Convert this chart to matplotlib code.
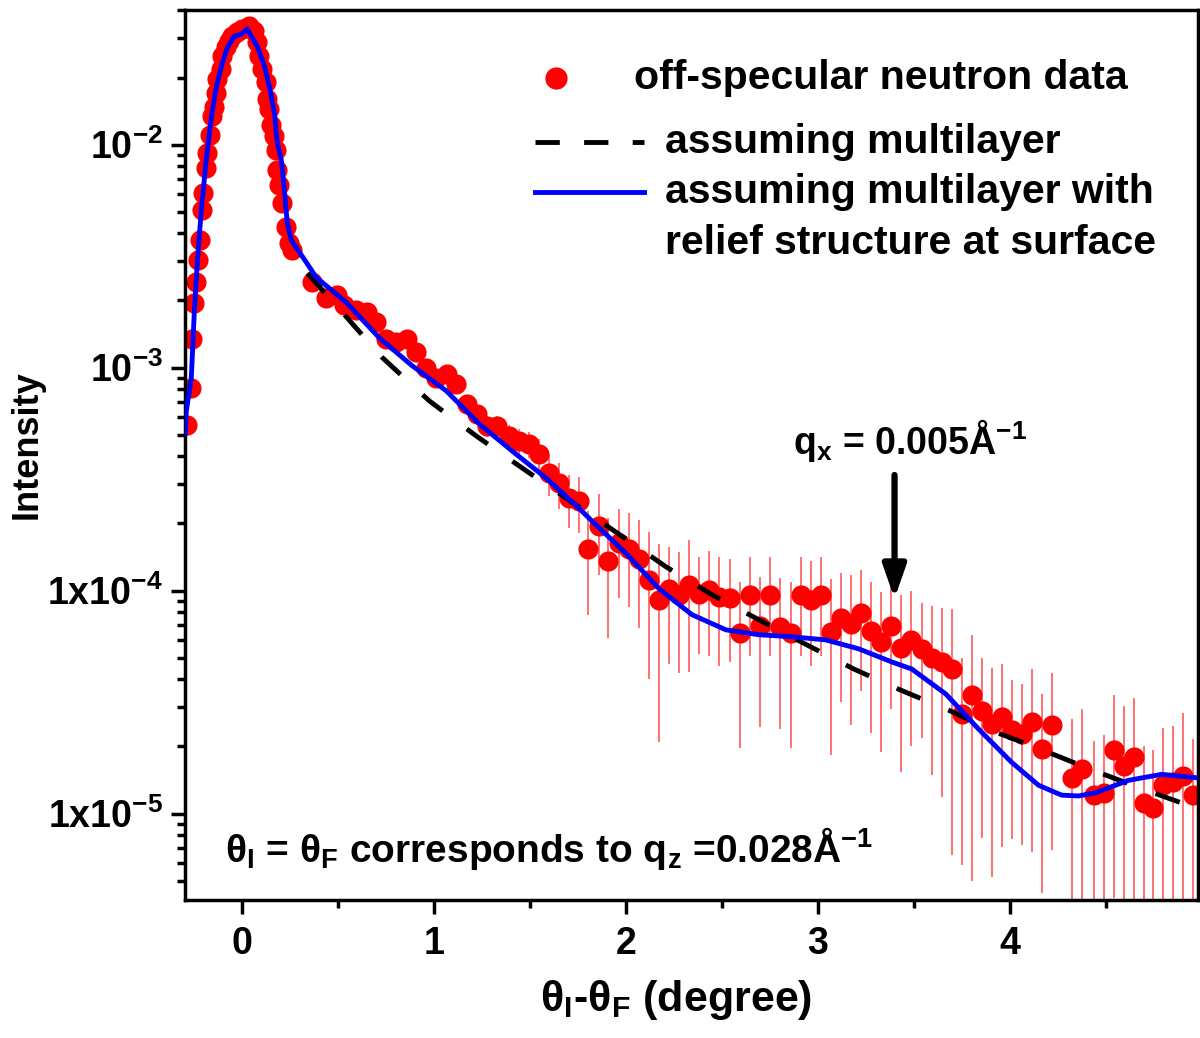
import matplotlib.pyplot as plt
import numpy as np
from matplotlib.ticker import LogLocator, MultipleLocator, NullFormatter

plt.rcParams['font.family'] = ['Liberation Sans', 'DejaVu Sans']
plt.rcParams['font.weight'] = 'bold'
plt.rcParams['mathtext.fontset'] = 'custom'
plt.rcParams['mathtext.rm'] = 'Liberation Sans:bold'
plt.rcParams['mathtext.it'] = 'Liberation Sans:bold'
plt.rcParams['mathtext.bf'] = 'Liberation Sans:bold'
plt.rcParams['mathtext.default'] = 'rm'

# off-specular neutron data (theta_I - theta_F in degree, intensity)
x_data = [-0.286, -0.266, -0.260, -0.250, -0.240, -0.229, -0.219, -0.208, -0.203, -0.188,
          -0.182, -0.167, -0.156, -0.146, -0.135, -0.130, -0.109, -0.104, -0.083, -0.068,
          -0.052, -0.026, 0.000, 0.036, 0.063, 0.078, 0.089, 0.104, 0.125, 0.130,
          0.141, 0.151, 0.167, 0.177, 0.182, 0.193, 0.208, 0.229, 0.245, 0.260,
          0.365, 0.438, 0.495, 0.531, 0.594, 0.651, 0.698, 0.750, 0.802, 0.859,
          0.906, 0.958, 1.010, 1.068, 1.115, 1.172, 1.224, 1.276, 1.328, 1.391,
          1.443, 1.495, 1.547, 1.599, 1.651, 1.703, 1.755, 1.802, 1.859, 1.906,
          1.964, 2.016, 2.068, 2.120, 2.172, 2.224, 2.276, 2.328, 2.380, 2.432,
          2.484, 2.542, 2.594, 2.646, 2.698, 2.750, 2.802, 2.859, 2.911, 2.964,
          3.016, 3.068, 3.120, 3.172, 3.224, 3.276, 3.328, 3.380, 3.432, 3.484,
          3.542, 3.594, 3.646, 3.698, 3.750, 3.802, 3.854, 3.906, 3.958, 4.010,
          4.063, 4.115, 4.167, 4.219, 4.323, 4.375, 4.438, 4.490, 4.542, 4.594,
          4.646, 4.698, 4.750, 4.802, 4.854, 4.906, 4.958]
y_data = [5.53e-4, 8.13e-4, 1.35e-3, 1.94e-3, 2.42e-3, 3.03e-3, 3.73e-3, 5.09e-3, 6.08e-3, 7.88e-3,
          9.20e-3, 1.11e-2, 1.34e-2, 1.47e-2, 1.71e-2, 1.96e-2, 2.18e-2, 2.49e-2, 2.73e-2, 2.91e-2,
          3.06e-2, 3.20e-2, 3.30e-2, 3.40e-2, 3.23e-2, 2.88e-2, 2.49e-2, 2.18e-2, 1.90e-2, 1.60e-2,
          1.44e-2, 1.23e-2, 1.09e-2, 9.49e-3, 7.71e-3, 6.60e-3, 5.48e-3, 4.28e-3, 3.62e-3, 3.37e-3,
          2.42e-3, 2.05e-3, 2.11e-3, 1.90e-3, 1.81e-3, 1.77e-3, 1.60e-3, 1.35e-3, 1.30e-3, 1.35e-3,
          1.17e-3, 1.00e-3, 9.02e-4, 9.40e-4, 8.47e-4, 6.89e-4, 6.21e-4, 5.48e-4, 5.48e-4, 4.94e-4,
          4.69e-4, 4.55e-4, 4.10e-4, 3.37e-4, 3.03e-4, 2.60e-4, 2.52e-4, 1.53e-4, 1.94e-4, 1.36e-4,
          1.63e-4, 1.53e-4, 1.38e-4, 1.12e-4, 9.10e-5, 1.02e-4, 9.59e-5, 1.06e-4, 9.68e-5, 1.01e-4,
          9.40e-5, 9.30e-5, 6.47e-5, 9.59e-5, 6.95e-5, 9.59e-5, 6.89e-5, 6.47e-5, 9.59e-5, 9.10e-5,
          9.59e-5, 6.53e-5, 7.55e-5, 7.10e-5, 7.96e-5, 6.60e-5, 5.89e-5, 6.95e-5, 5.53e-5, 6.01e-5,
          5.48e-5, 4.99e-5, 4.79e-5, 4.45e-5, 2.79e-5, 3.40e-5, 2.88e-5, 2.52e-5, 2.71e-5, 2.37e-5,
          2.27e-5, 2.57e-5, 1.94e-5, 2.49e-5, 1.45e-5, 1.58e-5, 1.21e-5, 1.24e-5, 1.92e-5, 1.64e-5,
          1.79e-5, 1.12e-5, 1.06e-5, 1.34e-5, 1.38e-5, 1.48e-5, 1.21e-5]
y_err = [0] * 40 + \
        [5.0e-5] * 12 + \
        [6.0e-5] * 10 + \
        [7.0e-5, 7.0e-5, 7.0e-5, 7.0e-5, 7.0e-5, 7.5e-5, 7.7e-5, 7.5e-5, 7.0e-5, 6.9e-5, 7.0e-5, 7.2e-5] + \
        [7.0e-5, 5.5e-5, 5.3e-5, 6.3e-5, 4.5e-5, 5.0e-5, 4.8e-5, 4.5e-5] + \
        [4.5e-5, 4.5e-5, 4.5e-5, 4.5e-5, 4.5e-5, 4.5e-5, 4.5e-5, 4.5e-5, 4.5e-5] + \
        [4.7e-5, 4.4e-5, 4.6e-5, 4.4e-5, 4.3e-5, 4.0e-5, 4.0e-5, 4.0e-5, 4.0e-5, 3.3e-5] + \
        [3.5e-5, 3.6e-5, 3.8e-5] + \
        [2.2e-5, 2.9e-5, 2.1e-5, 2.0e-5, 2.0e-5, 1.6e-5, 1.55e-5, 1.9e-5, 1.5e-5, 1.8e-5] + \
        [1.2e-5, 1.36e-5, 0.9e-5, 1.0e-5, 1.5e-5, 1.4e-5, 1.5e-5, 0.9e-5, 0.86e-5, 1.08e-5, 1.1e-5, 1.34e-5, 0.96e-5]

# model assuming multilayer
x_ml = [0.339, 0.521, 0.729, 0.974, 1.219, 1.458, 1.710, 1.964, 2.208, 2.448,
        2.693, 2.943, 3.188, 3.432, 3.682, 3.927, 4.177, 4.422, 4.672, 4.917, 4.980]
y_ml = [2.65e-3, 1.77e-3, 1.11e-3, 7.10e-4, 4.94e-4, 3.55e-4, 2.52e-4, 1.79e-4, 1.28e-4, 9.59e-5,
        7.40e-5, 5.71e-5, 4.45e-5, 3.58e-5, 2.91e-5, 2.32e-5, 1.92e-5, 1.58e-5, 1.31e-5, 1.10e-5, 1.06e-5]

# model assuming multilayer with relief structure at surface
x_rel = [-0.297, -0.292, -0.266, -0.250, -0.234, -0.214, -0.188, -0.161, -0.135, -0.109,
         -0.078, -0.042, -0.005, 0.026, 0.047, 0.078, 0.115, 0.141, 0.167, 0.182,
         0.203, 0.219, 0.234, 0.255, 0.297, 0.333, 0.385, 0.542, 0.714, 0.885,
         1.063, 1.234, 1.406, 1.583, 1.755, 1.823, 2.000, 2.172, 2.344, 2.521,
         2.693, 2.865, 3.042, 3.214, 3.385, 3.490, 3.667, 3.839, 4.010, 4.151,
         4.271, 4.359, 4.448, 4.620, 4.792, 4.969]
y_rel = [5.09e-4, 6.40e-4, 9.02e-4, 1.81e-3, 3.03e-3, 5.09e-3, 8.56e-3, 1.34e-2, 1.82e-2, 2.25e-2,
         2.73e-2, 3.06e-2, 3.13e-2, 3.30e-2, 3.06e-2, 2.76e-2, 2.25e-2, 1.82e-2, 1.39e-2, 1.02e-2,
         8.56e-3, 6.27e-3, 4.46e-3, 3.73e-3, 3.30e-3, 2.97e-3, 2.54e-3, 1.96e-3, 1.36e-3, 1.02e-3,
         7.87e-4, 5.60e-4, 4.23e-4, 3.20e-4, 2.34e-4, 2.05e-4, 1.47e-4, 1.02e-4, 7.80e-5, 6.67e-5,
         6.34e-5, 6.21e-5, 6.01e-5, 5.48e-5, 4.79e-5, 4.45e-5, 3.44e-5, 2.39e-5, 1.70e-5, 1.34e-5,
         1.21e-5, 1.20e-5, 1.24e-5, 1.41e-5, 1.50e-5, 1.45e-5]

ytick_vals = [1e-5, 1e-4, 1e-3, 1e-2]
ytick_labels = ['1x10$^{-5}$', '1x10$^{-4}$', '10$^{-3}$', '10$^{-2}$']

fig = plt.figure(figsize=(12, 10.38), dpi=100)
ax = fig.add_axes([0.154, 0.133, 0.844, 0.857])

ax.errorbar(x_data, y_data, yerr=y_err, fmt='o', color='red', ms=14.5, mew=0,
            ecolor=(1, 0, 0, 0.65), elinewidth=1.2, capsize=1.5, capthick=1, zorder=2)
ax.plot(x_ml, y_ml, color='black', lw=3.5, dashes=(5.3, 6.2), zorder=3)
ax.plot(x_rel, y_rel, color='blue', lw=3.5, zorder=4)

ax.set_yscale('log')
ax.set_xlim(-0.30, 4.98)
ax.set_ylim(4.1e-6, 4.0e-2)

ax.set_yticks(ytick_vals, ytick_labels)
ax.yaxis.set_minor_locator(LogLocator(base=10, subs=np.arange(2, 10)))
ax.yaxis.set_minor_formatter(NullFormatter())
ax.xaxis.set_major_locator(MultipleLocator(1))
ax.xaxis.set_minor_locator(MultipleLocator(0.5))

for s in ax.spines.values():
    s.set_linewidth(2.5)
ax.tick_params(which='both', direction='out', width=2.5, top=False, right=False)
ax.tick_params(which='major', length=10, labelsize=27, pad=6)
ax.tick_params(axis='x', which='major', pad=9)
ax.tick_params(which='minor', length=6)

ax.set_xlabel('θ$_{I}$-θ$_{F}$ (degree)', fontsize=31, fontweight='bold')
ax.xaxis.set_label_coords(0.485, -0.088)
ax.set_ylabel('Intensity', fontsize=26, fontweight='bold')
ax.yaxis.set_label_coords(-0.138, 0.512)

# arrow + annotations
ax.annotate('', xy=(3.40, 9.2e-5), xytext=(3.40, 3.3e-4),
            arrowprops=dict(arrowstyle='-|>,head_width=0.35,head_length=1.0', lw=4.5, color='black',
                            shrinkA=0, shrinkB=0, mutation_scale=20))
ax.text(3.48, 4.7e-4, 'q$_{x}$ = 0.005Å$^{-1}$', fontsize=27, fontweight='bold', ha='center', va='center')
ax.text(0.04, 0.058, 'θ$_{I}$ = θ$_{F}$ corresponds to q$_{z}$ =0.028Å$^{-1}$', transform=ax.transAxes,
        fontsize=28, fontweight='bold', ha='left', va='center')

# legend drawn by hand in axes coordinates
ax.plot([0.367], [0.924], 'o', color='red', ms=16, mew=0, transform=ax.transAxes, clip_on=False)
ax.plot([0.3455, 0.453], [0.852, 0.852], color='black', lw=3.5, dashes=(5, 5),
        transform=ax.transAxes)
ax.plot([0.3455, 0.453], [0.7955, 0.7955], color='blue', lw=3.5, transform=ax.transAxes)
legend_fs = 29.5
ax.text(0.444, 0.924, 'off-specular neutron data', transform=ax.transAxes,
        fontsize=legend_fs, fontweight='bold', va='center', ha='left')
ax.text(0.474, 0.852, 'assuming multilayer', transform=ax.transAxes,
        fontsize=legend_fs, fontweight='bold', va='center', ha='left')
ax.text(0.474, 0.7955, 'assuming multilayer with', transform=ax.transAxes,
        fontsize=legend_fs, fontweight='bold', va='center', ha='left')
ax.text(0.474, 0.738, 'relief structure at surface', transform=ax.transAxes,
        fontsize=legend_fs, fontweight='bold', va='center', ha='left')

fig.savefig('out.png', dpi=100)
